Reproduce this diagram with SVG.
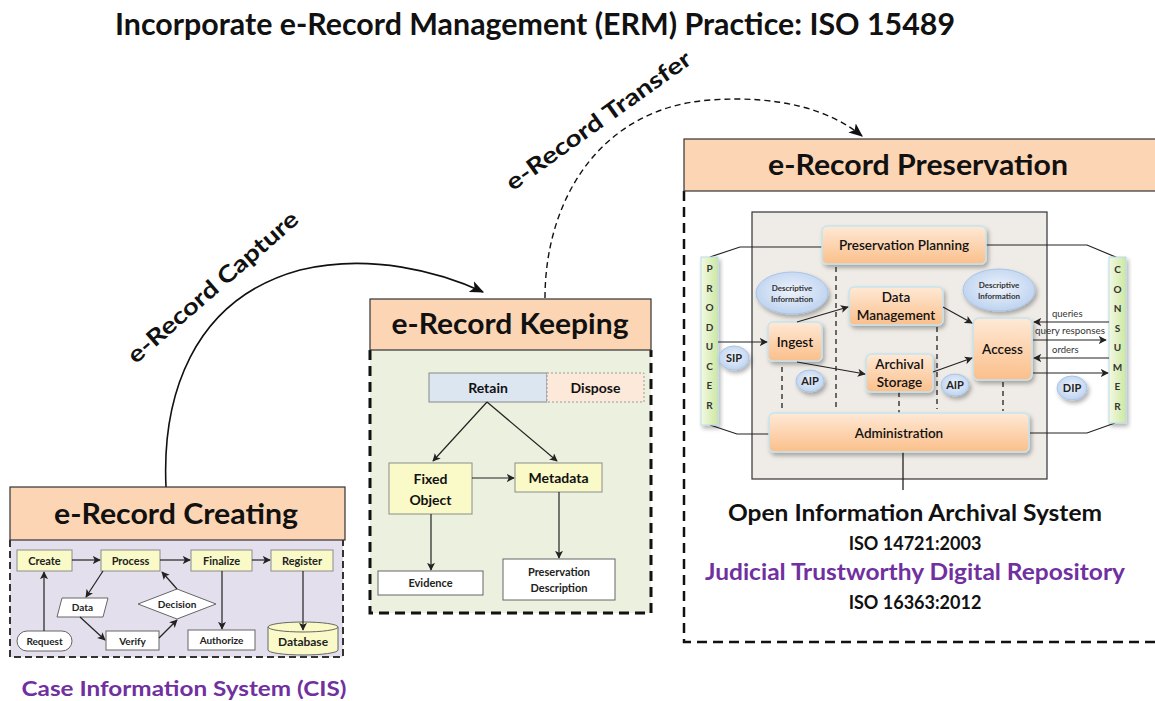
<svg xmlns="http://www.w3.org/2000/svg" width="1155" height="701" viewBox="0 0 1155 701">
<defs>
<style>
text{font-family:Lato,"Liberation Sans",sans-serif;}
.hdr{fill:#fcd5b4;stroke:#333;stroke-width:1.2}
.hdrt{font-size:28px;font-weight:bold;fill:#111;text-anchor:middle}
.ybox{fill:#fafac8;stroke:#8c8c8c;stroke-width:1}
.wbox{fill:#fff;stroke:#666;stroke-width:1}
.t11{font-size:11px;font-weight:bold;fill:#222;text-anchor:middle}
.t10{font-size:10px;font-weight:bold;fill:#222;text-anchor:middle}
.t14{font-size:14px;font-weight:bold;fill:#111;text-anchor:middle}
.ln{stroke:#222;stroke-width:1.2;fill:none}
.ob{fill:url(#og);stroke:#c4e4f0;stroke-width:1.5;filter:url(#sh)}
.ot{font-size:13.5px;font-weight:600;fill:#111;text-anchor:middle}
.el{fill:url(#bg);stroke:#a9c4e4;stroke-width:1;filter:url(#sh)}
.et{font-size:8px;font-weight:bold;fill:#333;text-anchor:middle}
.eb{font-size:11px;font-weight:bold;fill:#222;text-anchor:middle}
.dl{stroke:#222;stroke-width:1.3;stroke-dasharray:5,4;fill:none}
.bar{fill:url(#gg);stroke:#b9dbe9;stroke-width:1;filter:url(#sh)}
.lt{font-size:10px;font-weight:bold;fill:#333;text-anchor:middle}
.sm{font-size:9.5px;fill:#333}
.big{font-size:22px;font-weight:bold;text-anchor:middle}
.iso{font-size:18px;font-weight:bold;fill:#111;text-anchor:middle}
.pur{fill:#7030a0}
</style>
<linearGradient id="og" x1="0" y1="0" x2="0" y2="1">
<stop offset="0" stop-color="#fee9d6"/>
<stop offset="1" stop-color="#fbbf8a"/>
</linearGradient>
<radialGradient id="bg" cx="0.5" cy="0.45" r="0.6">
<stop offset="0" stop-color="#eef3fb"/>
<stop offset="1" stop-color="#b9d0ef"/>
</radialGradient>
<linearGradient id="gg" x1="0" y1="0" x2="1" y2="0">
<stop offset="0" stop-color="#f3f9e2"/>
<stop offset="1" stop-color="#cde7a2"/>
</linearGradient>
<filter id="sh" x="-20%" y="-20%" width="150%" height="160%">
<feDropShadow dx="2" dy="3" stdDeviation="2" flood-color="#000" flood-opacity="0.3"/>
</filter>
<marker id="ab" viewBox="0 0 12 10" refX="11" refY="5" markerWidth="14" markerHeight="12" markerUnits="userSpaceOnUse" orient="auto">
<path d="M0,0 L12,5 L0,10 L3,5 z" fill="#111"/>
</marker>
<marker id="as" viewBox="0 0 10 10" refX="9" refY="5" markerWidth="8" markerHeight="8" markerUnits="userSpaceOnUse" orient="auto">
<path d="M0,0 L10,5 L0,10 L2.5,5 z" fill="#222"/>
</marker>
</defs>
<rect width="1155" height="701" fill="#fff"/>
<text x="535" y="35" font-size="30" font-weight="bold" text-anchor="middle" fill="#111" textLength="840" lengthAdjust="spacingAndGlyphs">Incorporate e-Record Management (ERM) Practice: ISO 15489</text>

<g id="connectors">
<path d="M166,487 C162,400 190,300 300,270 C370,253 440,272 483,292" stroke="#111" stroke-width="1.6" fill="none" marker-end="url(#ab)"/>
<text x="0" y="0" transform="translate(218,293) rotate(-41)" font-size="23" font-weight="bold" text-anchor="middle" fill="#111" textLength="218" lengthAdjust="spacingAndGlyphs">e-Record Capture</text>
<path d="M545,298 C545,200 600,108 710,100 C780,95 830,110 862,136" stroke="#111" stroke-width="1.4" stroke-dasharray="6,4" fill="none" marker-end="url(#ab)"/>
<text x="0" y="0" transform="translate(603,127) rotate(-35.5)" font-size="23" font-weight="bold" text-anchor="middle" fill="#111" textLength="222" lengthAdjust="spacingAndGlyphs">e-Record Transfer</text>
</g>

<g id="creating">
<rect x="10" y="540" width="333" height="117" fill="#e4dfec"/>
<path d="M10,540 L10,657 L343,657 L343,540" fill="none" stroke="#333" stroke-width="2" stroke-dasharray="7,4"/>
<rect class="hdr" x="10" y="487" width="335" height="53"/>
<text class="hdrt" x="176" y="524" textLength="244" lengthAdjust="spacingAndGlyphs">e-Record Creating</text>
<rect class="ybox" x="17" y="550" width="55" height="21"/>
<text class="t11" x="44.5" y="564.5">Create</text>
<rect class="ybox" x="101" y="550" width="59" height="21"/>
<text class="t11" x="130.5" y="564.5">Process</text>
<rect class="ybox" x="191" y="550" width="61" height="21"/>
<text class="t11" x="221.5" y="564.5">Finalize</text>
<rect class="ybox" x="271" y="550" width="62" height="21"/>
<text class="t11" x="302" y="564.5">Register</text>
<rect class="wbox" x="17" y="631" width="55" height="20" rx="10"/>
<text class="t10" x="44.5" y="645">Request</text>
<polygon class="wbox" points="62,598 108,598 103,617 57,617"/>
<text class="t10" x="82.5" y="611">Data</text>
<rect class="wbox" x="106" y="631" width="53" height="19"/>
<text class="t10" x="132.5" y="644.5">Verify</text>
<polygon class="wbox" points="177,589 216,604 177,619 138,604"/>
<text class="t10" x="177" y="607.5">Decision</text>
<rect class="wbox" x="188" y="630" width="67" height="20"/>
<text class="t10" x="221.5" y="644">Authorize</text>
<path d="M268,627 L268,650 A35,5 0 0 0 338,650 L338,627" fill="#fafac8" stroke="#666"/>
<ellipse cx="303" cy="627" rx="35" ry="5" fill="#fafac8" stroke="#666"/>
<text x="303" y="646" font-size="12" font-weight="bold" fill="#222" text-anchor="middle">Database</text>
<g class="ln">
<path d="M72,560 L100,560" marker-end="url(#as)"/>
<path d="M160,560 L190,560" marker-end="url(#as)"/>
<path d="M252,560 L270,560" marker-end="url(#as)"/>
<path d="M44,631 L44,572" marker-end="url(#as)"/>
<path d="M103,571 L86,597" marker-end="url(#as)"/>
<path d="M80,617 L105,640" marker-end="url(#as)"/>
<path d="M159,638 L177,620" marker-end="url(#as)"/>
<path d="M177,589 L162,572" marker-end="url(#as)"/>
<path d="M222,571 L222,629" marker-end="url(#as)"/>
<path d="M303,571 L303,630" marker-end="url(#as)"/>
</g>
<text class="pur" x="184" y="696" font-size="21" font-weight="bold" text-anchor="middle" textLength="325" lengthAdjust="spacingAndGlyphs">Case Information System (CIS)</text>
</g>

<g id="keeping">
<rect x="370" y="350" width="281" height="263" fill="#ebf1de"/>
<path d="M370,350 L370,613 L651,613 L651,350" fill="none" stroke="#111" stroke-width="3" stroke-dasharray="10,6"/>
<rect class="hdr" x="370" y="299" width="281" height="51"/>
<text class="hdrt" x="510" y="334" textLength="237" lengthAdjust="spacingAndGlyphs">e-Record Keeping</text>
<rect x="429" y="373" width="118" height="29" fill="#dce6f1" stroke="#888"/>
<text class="t14" x="488" y="392.5">Retain</text>
<rect x="547" y="373" width="97" height="29" fill="#fde9d9" stroke="#999" stroke-dasharray="2,2"/>
<text class="t14" x="595.5" y="392.5">Dispose</text>
<rect class="ybox" x="389" y="463" width="83" height="51"/>
<text class="t14" x="430.5" y="484">Fixed</text>
<text class="t14" x="430.5" y="505">Object</text>
<rect class="ybox" x="515" y="463" width="87" height="29"/>
<text class="t14" x="558.5" y="483">Metadata</text>
<rect class="wbox" x="378" y="571" width="105" height="24"/>
<text class="t11" x="430.5" y="587">Evidence</text>
<rect class="wbox" x="503" y="559" width="112" height="41"/>
<text class="t11" x="559" y="576">Preservation</text>
<text class="t11" x="559" y="592">Description</text>
<g class="ln">
<path d="M487,402 L433,461" marker-end="url(#as)"/>
<path d="M487,402 L557,461" marker-end="url(#as)"/>
<path d="M472,478 L514,478" marker-end="url(#as)"/>
<path d="M431,514 L431,570" marker-end="url(#as)"/>
<path d="M559,492 L559,558" marker-end="url(#as)"/>
</g>
</g>

<g id="preservation">
<path d="M684,191 L684,642 L1160,642" fill="none" stroke="#111" stroke-width="2.5" stroke-dasharray="10,6"/>
<rect class="hdr" x="684" y="139" width="490" height="52"/>
<text class="hdrt" x="918" y="175" textLength="300" lengthAdjust="spacingAndGlyphs">e-Record Preservation</text>
<text class="big" x="915" y="521" fill="#111" textLength="374" lengthAdjust="spacingAndGlyphs">Open Information Archival System</text>
<text class="iso" x="915" y="550">ISO 14721:2003</text>
<text class="big pur" x="915" y="580" textLength="420" lengthAdjust="spacingAndGlyphs">Judicial Trustworthy Digital Repository</text>
<text class="iso" x="915" y="609">ISO 16363:2012</text>
</g>

<g id="oais">
<rect x="752" y="212" width="295" height="267" fill="#efece7" stroke="#333" stroke-width="1.2"/>
<line x1="903" y1="452" x2="903" y2="490" stroke="#222" stroke-width="1.3"/>
<g class="ln">
<path d="M710,257 L740,247 L822,247"/>
<path d="M710,425 L737,434 L769,434"/>
<path d="M986,245 L1087,245 L1118,258"/>
<path d="M1115,423 L1087,433 L1030,433"/>
</g>
<g class="dl">
<path d="M782,367 L782,412"/>
<path d="M836,267 L836,408"/>
<path d="M899,392 L899,413"/>
<path d="M937,327 L937,409"/>
<path d="M1003,382 L1003,411"/>
</g>
<rect class="bar" x="701" y="257" width="17" height="168"/>
<g class="lt">
<text x="709.5" y="272">P</text><text x="709.5" y="292">R</text><text x="709.5" y="311">O</text><text x="709.5" y="331">D</text><text x="709.5" y="350">U</text><text x="709.5" y="370">C</text><text x="709.5" y="389">E</text><text x="709.5" y="409">R</text>
</g>
<rect class="bar" x="1109" y="257" width="17" height="166"/>
<g class="lt">
<text x="1117.5" y="273">C</text><text x="1117.5" y="293">O</text><text x="1117.5" y="312">N</text><text x="1117.5" y="332">S</text><text x="1117.5" y="351">U</text><text x="1117.5" y="371">M</text><text x="1117.5" y="390">E</text><text x="1117.5" y="410">R</text>
</g>
<rect class="ob" x="822" y="226" width="164" height="38" rx="5"/>
<text class="ot" x="904" y="250">Preservation Planning</text>
<ellipse class="el" cx="792" cy="293" rx="36" ry="21"/>
<text class="et" x="792" y="291">Descriptive</text>
<text class="et" x="792" y="302">Information</text>
<rect class="ob" x="849" y="287" width="94" height="38" rx="5"/>
<text class="ot" x="896" y="302">Data</text>
<text class="ot" x="896" y="320">Management</text>
<rect class="ob" x="768" y="322" width="54" height="39" rx="5"/>
<text class="ot" x="795" y="347">Ingest</text>
<ellipse class="el" cx="734" cy="358" rx="15" ry="12"/>
<text class="eb" x="734" y="362">SIP</text>
<ellipse class="el" cx="810" cy="381" rx="14" ry="11"/>
<text class="eb" x="810" y="385">AIP</text>
<rect class="ob" x="866" y="354" width="67" height="38" rx="5"/>
<text class="ot" x="899.5" y="369">Archival</text>
<text class="ot" x="899.5" y="387">Storage</text>
<ellipse class="el" cx="999" cy="290" rx="36" ry="21"/>
<text class="et" x="999" y="288">Descriptive</text>
<text class="et" x="999" y="299">Information</text>
<rect class="ob" x="973" y="318" width="59" height="62" rx="6"/>
<text class="ot" x="1002.5" y="354">Access</text>
<ellipse class="el" cx="955" cy="385" rx="14" ry="11"/>
<text class="eb" x="955" y="389">AIP</text>
<ellipse class="el" cx="1072" cy="388" rx="15" ry="12"/>
<text class="eb" x="1072" y="392">DIP</text>
<rect class="ob" x="769" y="413" width="260" height="39" rx="5"/>
<text class="ot" x="899" y="438">Administration</text>
<g class="ln" stroke-width="1.5">
<path d="M718,342 L767,342" marker-end="url(#as)"/>
<path d="M797,322 L848,307" marker-end="url(#as)"/>
<path d="M797,362 L865,374" marker-end="url(#as)"/>
<path d="M943,307 L972,323" marker-end="url(#as)"/>
<path d="M933,372 L972,358" marker-end="url(#as)"/>
<path d="M1109,322 L1034,322" marker-end="url(#as)"/>
<path d="M1033,340 L1106,340" marker-end="url(#as)"/>
<path d="M1109,358 L1034,358" marker-end="url(#as)"/>
<path d="M1033,373 L1108,373" marker-end="url(#as)"/>
</g>
<text class="sm" x="1052" y="317">queries</text>
<text class="sm" x="1035" y="334" textLength="70" lengthAdjust="spacingAndGlyphs">query responses</text>
<text class="sm" x="1052" y="353">orders</text>
</g>
</svg>
